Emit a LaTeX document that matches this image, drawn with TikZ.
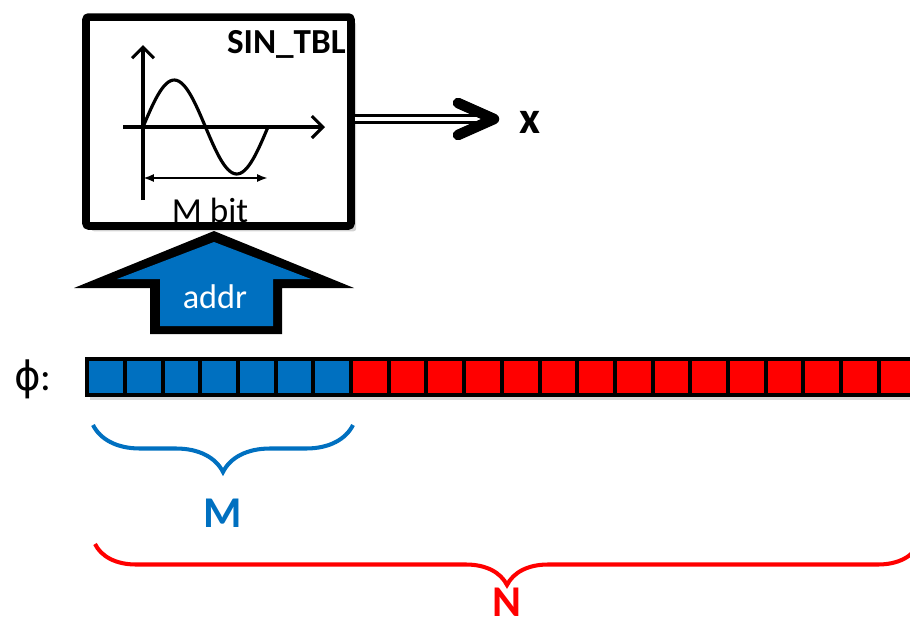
\documentclass[tikz,border=0pt]{standalone}
\usepackage{fontspec}
\setmainfont{Carlito}
\newfontfamily\phifont{DejaVu Sans}
\usetikzlibrary{arrows.meta,decorations.pathreplacing,shadows}
\definecolor{addrblue}{RGB}{0,112,192}
\definecolor{bitred}{RGB}{255,0,0}
\tikzset{
  tblbox/.style={draw,fill=white,line width=4.3pt,rounded corners=1.5pt,
    drop shadow={opacity=.35,shadow xshift=3pt,shadow yshift=-3pt}},
  axisline/.style={line width=1.8pt,-{Straight Barb[length=2.2mm,width=4.4mm]}},
  bitcell/.style={draw,line width=2.3pt,minimum width=.754cm,minimum height=.72cm,inner sep=0pt,
    drop shadow={opacity=.3,shadow xshift=1.5pt,shadow yshift=-3pt}},
  bracket/.style={decorate,line width=2.3pt,decoration={brace,mirror,amplitude=#1}},
  lbl/.style={inner sep=0pt,anchor=base}
}

\begin{document}
\begin{tikzpicture}[x=0.02cm,y=-0.02cm]
  \useasboundingbox (0,0) rectangle (910,630);
  \clip (0,0) rectangle (910,630);

  % sine table
  \node[tblbox,minimum width=5.3cm,minimum height=4.18cm] (tbl) at (218.5,121.5) {};
  \node[lbl,anchor=base east,font=\bfseries\fontsize{20}{22}\selectfont] (title) at (346,53) {SIN\_TBL};
  \draw[axisline] (143,200) -- (143,45);
  \draw[axisline] (123,127) -- (325,127);
  \draw[line width=1.8pt] plot[domain=0:360,samples=60,smooth] ({143+\x/360*125},{127-47*sin(\x)});
  \draw[line width=1.5pt,{Latex[length=2.2mm]}-{Latex[length=2.2mm]}] (143,178) -- (268,178);
  \node[lbl,font=\fontsize{20}{22}\selectfont] (mbit) at (210,222) {M bit};

  % output x
  \coordinate (xtip) at (494,119);
  \draw[double,double distance=2.6pt,line width=1.6pt] (tbl.east |- xtip) -- ([xshift=-8]xtip);
  \draw[line width=6pt,line cap=round,line join=round]
    ([shift={(-36,-16)}]xtip) -- (xtip) -- ([shift={(-36,16)}]xtip);
  \node[lbl,font=\bfseries\fontsize{26}{28}\selectfont] (xout) at (530,133) {x};

  % addr arrow
  \fill (214,231) -- (354,288) -- (282,288) -- (282,334) -- (150,334) -- (150,288) -- (74,288) -- cycle;
  \fill[addrblue] (214,242) -- (311,279) -- (273,279) -- (273,326) -- (160,326) -- (160,279) -- (117,279) -- cycle;
  \node[lbl,text=white,font=\fontsize{19.5}{21}\selectfont] (addr) at (215,308) {addr};

  % phase word
  \node[lbl,font=\fontsize{23}{25}\selectfont] (phi) at (33,390) {{\phifont ϕ}:};
  \foreach \i in {0,...,6}
    \node[bitcell,fill=addrblue] (b\i) at ({106+37.7*\i},377) {};
  \foreach \i in {7,...,23}
    \node[bitcell,fill=bitred] (b\i) at ({106+37.7*\i},377) {};

  % widths
  \draw[bracket=0.94cm,addrblue] (93,425) -- (353,425);
  \node[lbl,text=addrblue,font=\bfseries\fontsize{25}{27}\selectfont] (mlbl) at (223,527) {M};
  \draw[bracket=0.82cm,bitred] (95,544) -- (919,544);
  \node[lbl,text=bitred,font=\bfseries\fontsize{25}{27}\selectfont] (nlbl) at (507,616) {N};
\end{tikzpicture}
\end{document}
